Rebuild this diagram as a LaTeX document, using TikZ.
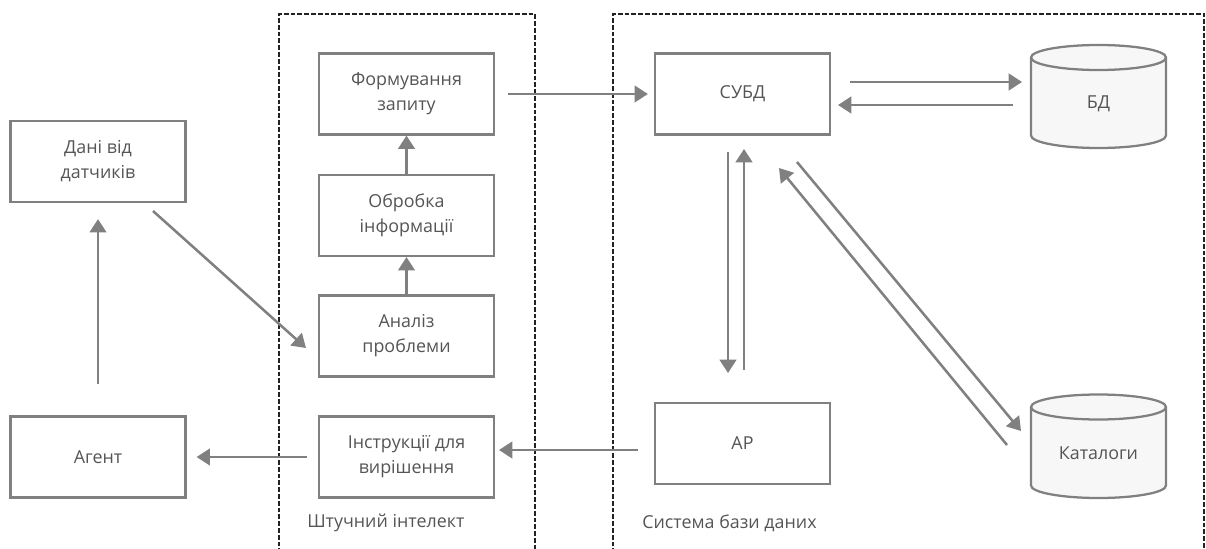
\documentclass[tikz,border=0pt]{standalone}
\usepackage{fontspec}
\setmainfont{Open Sans}
\usetikzlibrary{arrows.meta}
\definecolor{edge}{HTML}{808080}
\definecolor{ink}{HTML}{555555}
\definecolor{frame}{HTML}{222222}
\definecolor{dbfill}{HTML}{F7F7F7}
\begin{document}
\begin{tikzpicture}[x=0.75pt,y=-0.75pt,
  txt/.style={text=ink,font=\fontsize{13.4}{18.75}\selectfont},
  box/.style={txt,draw=edge,line width=1.7pt,fill=white,align=center,
    minimum width=131.25pt,minimum height=60.75pt,inner sep=0pt},
  dbtext/.style={txt,inner sep=0pt},
  dbbody/.style={draw=edge,line width=1.7pt,fill=dbfill},
  flow/.style={draw=edge,line width=1.9pt,-{Triangle[length=10pt,width=12.5pt]}},
  zone/.style={draw=frame,line width=1.4pt,dash pattern=on 3.6pt off 1.5pt},
  zonelabel/.style={txt,anchor=west,inner sep=0pt}
]
\useasboundingbox (0,0) rectangle (1206,549);

% dashed group frames, open at the bottom
\begin{scope}
\clip (0,0) rectangle (1206,549);
\draw[zone] (279,560) -- (279,14) -- (535,14) -- (535,560);
\draw[zone] (613,560) -- (613,14) -- (1204,14) -- (1204,560);
\end{scope}
\node[zonelabel] (ailabel) at (307,523) {Штучний інтелект};
\node[zonelabel] (dblabel) at (642,523) {Система бази даних};

% process boxes
\node[box] (dani)  at (98,161.5)  {Дані від\\датчиків};
\node[box] (agent) at (98,457)    {Агент};
\node[box] (form)  at (406.5,94)  {Формування\\запиту};
\node[box] (obr)   at (406.5,215.5) {Обробка\\інформації};
\node[box] (anal)  at (406.5,336) {Аналіз\\проблеми};
\node[box] (instr) at (406.5,457) {Інструкції для\\вирішення};
\node[box] (subd)  at (742.5,94)  {СУБД};
\node[box] (ap)    at (742.5,443.5) {АР};

% storage cylinders
\path[dbbody] (1031,57.5) -- (1031,135.5)
  arc[start angle=180,end angle=360,x radius=50.625pt,y radius=9.375pt]
  -- (1166,57.5)
  arc[start angle=0,end angle=180,x radius=50.625pt,y radius=9.375pt] -- cycle;
\draw[draw=edge,line width=1.7pt] (1031,57.5)
  arc[start angle=180,end angle=360,x radius=50.625pt,y radius=9.375pt];
\node[dbtext] (bd) at (1098.5,104) {БД};

\path[dbbody] (1031,407) -- (1031,485.5)
  arc[start angle=180,end angle=360,x radius=50.625pt,y radius=9.375pt]
  -- (1166,407)
  arc[start angle=0,end angle=180,x radius=50.625pt,y radius=9.375pt] -- cycle;
\draw[draw=edge,line width=1.7pt] (1031,407)
  arc[start angle=180,end angle=360,x radius=50.625pt,y radius=9.375pt];
\node[dbtext] (kat) at (1098.5,453) {Каталоги};

% free connector ends
\coordinate (daniout) at (153,211);
\coordinate (analin)  at (306,348);
\coordinate (subdbd)  at (850,82);
\coordinate (bdin)    at (1022,82);
\coordinate (bdout)   at (1013,105);
\coordinate (subdin)  at (838,105);
\coordinate (subddn)  at (728,152);
\coordinate (apin)    at (728,373);
\coordinate (apup)    at (744,370);
\coordinate (subdup)  at (744,149);
\coordinate (subdkat) at (797,162);
\coordinate (katin)   at (1021,431);
\coordinate (katout)  at (1007,445);
\coordinate (subddg)  at (779,168);
\coordinate (apout)   at (638,450);
\coordinate (instrin) at (499,450);

% connectors
\draw[flow,shorten <=23.25pt,shorten >=12pt] (agent) -- (dani);
\draw[flow] (daniout) -- (analin);
\draw[flow] (anal) -- (obr);
\draw[flow] (obr) -- (form);
\draw[flow,shorten <=9.75pt,shorten >=4.5pt] (form) -- (subd);
\draw[flow] (subdbd) -- (bdin);
\draw[flow] (bdout) -- (subdin);
\draw[flow] (subddn) -- (apin);
\draw[flow] (apup) -- (subdup);
\draw[flow] (subdkat) -- (katin);
\draw[flow] (katout) -- (subddg);
\draw[flow] (apout) -- (instrin);
\draw[flow,shorten <=8.25pt,shorten >=7.5pt] (instr) -- (agent);
\end{tikzpicture}
\end{document}
